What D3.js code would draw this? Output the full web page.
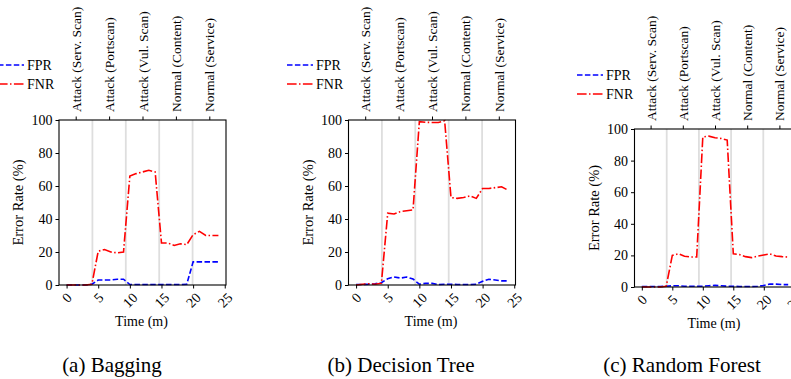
<!DOCTYPE html>
<html>
<head>
<meta charset="utf-8">
<script src="https://cdn.jsdelivr.net/npm/d3@7"></script>
<style>
  body { margin: 0; background: #fff; }
  svg { display: block; }
  text { font-family: 'Liberation Serif', 'Times New Roman', serif; }
</style>
</head>
<body>
<svg width="791" height="379"></svg>
<script>
// data
var minutes = [0, 1, 2, 3, 4, 5, 6, 7, 8, 9, 10, 11, 12, 13, 14, 15, 16, 17, 18, 19, 20, 21, 22, 23, 24]
var phases = ['Attack (Serv. Scan)', 'Attack (Portscan)', 'Attack (Vul. Scan)', 'Normal (Content)', 'Normal (Service)']
var timeTicks = [0, 5, 10, 15, 20, 25]
var rateTicks = [0, 20, 40, 60, 80, 100]
var seriesNames = ['FPR', 'FNR']
var captions = ['(a) Bagging', '(b) Decision Tree', '(c) Random Forest']

var baggingFPR = [0, 0, 0, 0, 0.5, 3, 3, 3, 3.5, 3.5, 0.3, 0.3, 0.3, 0.3, 0.3, 0.3, 0.3, 0.3, 0.3, 0.5, 14, 14, 14, 14, 14]
var baggingFNR = [0, 0, 0, 0, 0.5, 20.5, 21.5, 20, 19.5, 20, 66, 67.5, 68.5, 69.5, 68.5, 25.5, 25.5, 24, 25, 24.5, 30.5, 32.5, 30, 30, 30]
var treeFPR = [0.3, 0.3, 0.5, 0.8, 1.4, 3.8, 4.9, 4.2, 4.8, 3.6, 0.5, 1, 1, 0.3, 0.5, 0.5, 0.3, 0.3, 0.3, 0.5, 2.2, 3.5, 3, 2.5, 2.5]
var treeFNR = [0, 0.5, 0.8, 0.5, 1, 43.5, 43, 44.5, 45, 45.5, 99, 98.6, 98.5, 98.5, 99.5, 53, 52.5, 53, 54, 52.5, 58.5, 58.5, 59, 59.5, 57.5]
var forestFPR = [0.3, 0.3, 0.3, 0.3, 0.5, 0.8, 0.8, 0.5, 0.5, 0.5, 0.5, 0.8, 1, 0.8, 0.5, 0.5, 0.3, 0.3, 0.3, 0.5, 1, 1.9, 1.8, 1.5, 1.5]
var forestFNR = [0, 0, 0, 0, 0.5, 20, 21, 19.5, 19, 19, 95, 95.5, 94.5, 94, 93, 21, 20.5, 19.2, 18.6, 19.5, 20.3, 21, 19.6, 19.2, 19]

var panelData = [
    [baggingFPR, baggingFNR],
    [treeFPR, treeFNR],
    [forestFPR, forestFNR]
]

// where each panel sits
var layout = [
    {left: 59, top: 120, w: 167, h: 165, legX: -2, legY: 65, capX: 112},
    {left: 348.5, top: 120, w: 167, h: 165, legX: 287, legY: 65, capX: 401},
    {left: 634.5, top: 129, w: 161, h: 158, legX: 577, legY: 75, capX: 682}
]

var colors = ['#0000ff', '#ff0000']
var dashes = ['5.5,2.4', '9.6,2.4,1.5,2.4']
var fs = 13.5
var serif = "'Liberation Serif', 'Times New Roman', serif"

var svg = d3.select('svg')

panelData.forEach(function(series, p){
    var L = layout[p]
    var g = svg.append('g').attr('transform', 'translate(' + L.left + ',' + L.top + ')')

    var x = d3.scaleLinear().domain([-1.2, 25.2]).range([0, L.w])
    var y = d3.scaleLinear().domain([0, 100]).range([L.h, 0])
    var band = d3.scaleLinear().domain([0, phases.length]).range([0, L.w])

    // gray separators between phases
    g.selectAll('line.sep')
        .data(d3.range(1, phases.length))
        .enter()
        .append('line')
        .attr('x1', function(d){ return band(d) })
        .attr('x2', function(d){ return band(d) })
        .attr('y1', 0)
        .attr('y2', L.h)
        .style('stroke', '#dedede')
        .style('stroke-width', 1.8)

    // lines
    series.forEach(function(vals, s){
        var line = d3.line()
            .x(function(d, i){ return x(minutes[i]) })
            .y(function(d){ return y(d) })
        g.append('path')
            .datum(vals)
            .attr('d', line)
            .style('fill', 'none')
            .style('stroke', colors[s])
            .style('stroke-width', 1.6)
            .style('stroke-dasharray', dashes[s])
    })

    // frame
    g.append('rect')
        .attr('width', L.w)
        .attr('height', L.h)
        .style('fill', 'none')
        .style('stroke', '#000')
        .style('stroke-width', 1.1)

    // left axis
    var ya = g.append('g').call(d3.axisLeft(y).tickValues(rateTicks).tickSize(3.5).tickPadding(3))
    ya.attr('font-family', null).attr('font-size', null)
    ya.select('.domain').remove()
    ya.selectAll('text').style('font-size', '14px').style('font-family', serif).attr('fill', '#000')

    // bottom axis with rotated labels
    var xa = g.append('g').attr('transform', 'translate(0,' + L.h + ')')
        .call(d3.axisBottom(x).tickValues(timeTicks).tickSize(3.5).tickFormat(d3.format('d')))
    xa.attr('font-family', null).attr('font-size', null)
    xa.select('.domain').remove()
    xa.selectAll('text')
        .style('font-size', '14px')
        .style('font-family', serif)
        .attr('fill', '#000')
        .attr('dy', null)
        .attr('y', null)
        .attr('text-anchor', 'middle')
        .attr('dominant-baseline', 'central')
        .attr('transform', function(){
            var tw = this.getComputedTextLength()
            var half = (tw + fs * 0.7) * 0.707 / 2
            return 'translate(0,' + (7 + half) + ') rotate(-45)'
        })

    // top axis with phase names
    var ta = g.append('g')
        .call(d3.axisTop(band).tickValues(d3.range(phases.length).map(function(i){ return i + 0.5 }))
            .tickSize(3.5).tickPadding(0)
            .tickFormat(function(d){ return phases[Math.floor(d)] }))
    ta.attr('font-family', null).attr('font-size', null)
    ta.select('.domain').remove()
    ta.selectAll('text')
        .style('font-size', fs + 'px')
        .style('font-family', serif)
        .attr('fill', '#000')
        .attr('y', null)
        .attr('dy', null)
        .attr('text-anchor', 'start')
        .attr('dominant-baseline', 'central')
        .attr('transform', 'translate(0,-8) rotate(-90)')

    // axis titles
    g.append('text')
        .attr('transform', 'translate(' + (-41) + ',' + (L.h / 2) + ') rotate(-90)')
        .attr('text-anchor', 'middle')
        .attr('dominant-baseline', 'central')
        .style('font-size', '14.5px')
        .style('font-family', serif)
        .text('Error Rate (%)')

    g.append('text')
        .attr('x', L.w / 2 - 1)
        .attr('y', L.h + 41)
        .attr('text-anchor', 'middle')
        .style('font-size', '14px')
        .style('font-family', serif)
        .text('Time (m)')

    // legend
    seriesNames.forEach(function(name, s){
        var ly = L.legY + s * 19
        svg.append('line')
            .attr('x1', L.legX)
            .attr('x2', L.legX + 26)
            .attr('y1', ly)
            .attr('y2', ly)
            .style('stroke', colors[s])
            .style('stroke-width', 1.6)
            .style('stroke-dasharray', dashes[s])
        svg.append('text')
            .attr('x', L.legX + 29)
            .attr('y', ly)
            .attr('dominant-baseline', 'central')
            .style('font-size', '14px')
            .style('font-family', serif)
            .text(name)
    })

    // caption
    svg.append('text')
        .attr('x', L.capX)
        .attr('y', 372)
        .attr('text-anchor', 'middle')
        .style('font-size', '21px')
        .style('font-family', serif)
        .text(captions[p])
})
</script>
</body>
</html>
